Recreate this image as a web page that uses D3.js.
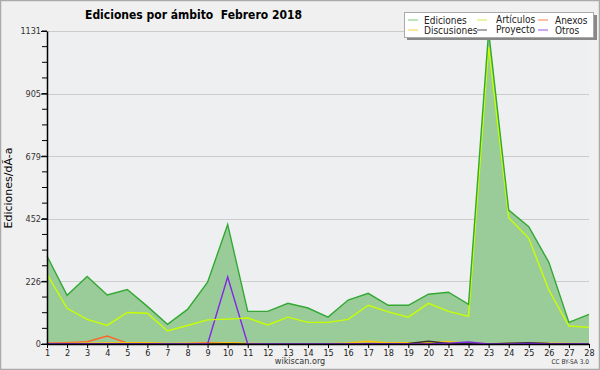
<!DOCTYPE html>
<html>
<head>
<meta charset="utf-8">
<script src="https://cdn.jsdelivr.net/npm/d3@7"></script>
<style>
  body { margin: 0; background: #fff; }
  svg { display: block; font-family: "DejaVu Sans Condensed", "DejaVu Sans", sans-serif; }
</style>
</head>
<body>
<svg id="chart" width="600" height="370"></svg>
<script>
const days = d3.range(1, 29);
const ediciones   = [318,176,244,177,197,136,71,125,223,432,118,118,147,130,97,159,183,140,140,180,187,143,1131,484,424,295,78,107];
const articulos   = [252,129,89,67,114,111,47,67,87,90,94,69,97,78,78,89,140,116,97,147,118,100,1074,456,382,195,65,60];
const anexos      = [3,5,8,29,3,2,1,2,5,3,1,1,1,1,1,1,2,3,2,2,2,1,1,1,1,1,1,1];
const discusiones = [1,2,3,4,5,5,2,3,2,5,2,1,1,1,1,4,10,4,5,6,8,3,1,2,3,3,2,1];
const proyecto    = [0,1,1,1,1,1,0,0,0,1,0,0,0,0,0,0,1,1,2,10,2,1,0,3,5,2,1,0];
const otros       = [0,0,0,0,0,0,0,0,0,242,0,0,0,0,0,0,0,0,0,0,3,7,0,0,2,0,0,0];
const yMax = 1131;
const yTicks = d3.range(0, 6).map(k => yMax * k / 5);
const yMinor = d3.range(0, 21).map(k => yMax * k / 20);

const series = [
  { name: "Ediciones",   values: ediciones,   color: "#33a833", key: "#77cc77" },
  { name: "Discusiones", values: discusiones, color: "#ffc800", key: "#ffd040" },
  { name: "Artículos",   values: articulos,   color: "#c8ff00", key: "#ccee55" },
  { name: "Proyecto",    values: proyecto,    color: "#333333", key: "#555555" },
  { name: "Anexos",      values: anexos,      color: "#ff6428", key: "#ff8050" },
  { name: "Otros",       values: otros,       color: "#8228e6", key: "#9a50ee" }
];

const svg = d3.select("#chart");
const margin = { top: 31, right: 11, bottom: 26, left: 47 };
const W = 600, H = 370;

svg.append("rect").attr("x", 0.5).attr("y", 0.5).attr("width", W - 1).attr("height", H - 1)
  .attr("fill", "#f0f0f0").attr("stroke", "#aaaaaa").attr("stroke-width", 1.5);

const x = d3.scaleLinear([1, 28], [margin.left, W - margin.right]);
const y = d3.scaleLinear([0, yMax], [H - margin.bottom, margin.top]);

svg.append("rect").attr("x", margin.left).attr("y", margin.top)
  .attr("width", x(28) - margin.left).attr("height", y(0) - margin.top).attr("fill", "#eeeff1");

// grid
svg.append("g").selectAll("line").data(yTicks.slice(1)).join("line")
  .attr("x1", margin.left).attr("x2", x(28))
  .attr("y1", d => Math.round(y(d)) + 0.5).attr("y2", d => Math.round(y(d)) + 0.5)
  .attr("stroke", "#cccccc");

// area + lines
const area = d3.area().x((d, i) => x(days[i])).y0(y(0)).y1(d => y(d));
svg.append("path").attr("d", area(ediciones)).attr("fill", "#99cc99");

const line = d3.line().x((d, i) => x(days[i])).y(d => y(d));
const drawOrder = [series[4], series[1], series[3], series[5], series[2], series[0]];
svg.append("g").attr("fill", "none").attr("stroke-width", 1.4)
  .selectAll("path").data(drawOrder).join("path")
  .attr("stroke", d => d.color).attr("d", d => line(d.values));

// axes
const yAxis = svg.append("g").attr("transform", `translate(${margin.left},0)`);
yAxis.call(d3.axisLeft(y).tickValues(yTicks).tickFormat(d3.format("d")).tickSize(6).tickSizeOuter(0));
yAxis.append("g").selectAll("line").data(yMinor).join("line")
  .attr("x1", -5).attr("x2", 0).attr("y1", d => y(d)).attr("y2", d => y(d)).attr("stroke", "#000");
yAxis.selectAll("text").attr("font-size", 9).attr("fill", "#333").attr("x", -6)
  .attr("font-family", "DejaVu Sans Condensed").text(d => Math.round(d));
yAxis.select(".domain").attr("stroke-width", 1.5);

const xAxis = svg.append("g").attr("transform", `translate(0,${y(0)})`);
xAxis.call(d3.axisBottom(x).tickValues(days).tickFormat(d3.format("d")).tickSize(4).tickSizeOuter(0));
xAxis.selectAll("text").attr("font-size", 9).attr("fill", "#222").attr("dy", "0.5em")
  .attr("font-family", "DejaVu Sans Condensed");
xAxis.select(".domain").attr("stroke-width", 1.5);

// texts
svg.append("text").attr("x", 85).attr("y", 19).attr("font-size", 12).attr("font-weight", "bold")
  .attr("xml:space", "preserve").text("Ediciones por ámbito  Febrero 2018");
svg.append("text").attr("transform", "translate(12,188) rotate(-90)").attr("text-anchor", "middle")
  .attr("font-family", "DejaVu Sans").attr("font-size", 11).text("Ediciones/dÃ-a");
svg.append("text").attr("x", 300).attr("y", 364).attr("text-anchor", "middle")
  .attr("font-size", 9).attr("fill", "#333").text("wikiscan.org");
svg.append("text").attr("x", 589).attr("y", 364).attr("text-anchor", "end")
  .attr("font-size", 6.5).attr("fill", "#333").text("CC BY-SA 3.0");

// legend
const lg = svg.append("g");
lg.append("rect").attr("x", 407).attr("y", 15).attr("width", 190).attr("height", 25).attr("fill", "#888");
lg.append("rect").attr("x", 404.5).attr("y", 12.5).attr("width", 189).attr("height", 25)
  .attr("fill", "#fff").attr("stroke", "#aaa");
const cols = [408, 477, 538];
const items = lg.selectAll("g").data(series).join("g")
  .attr("transform", (d, i) => `translate(${cols[Math.floor(i / 2)]},${i % 2 ? 30 : 20})`);
items.append("line").attr("x1", 0).attr("x2", 10).attr("stroke", d => d.key).attr("stroke-width", 1);
items.append("text").attr("x", (d, i) => i < 2 ? 16 : (i < 4 ? 19 : 17))
  .attr("y", (d, i) => (i === 2 || i === 3) ? 2.5 : 3.5)
  .attr("font-size", 10).attr("fill", "#222").text(d => d.name);
</script>
</body>
</html>
